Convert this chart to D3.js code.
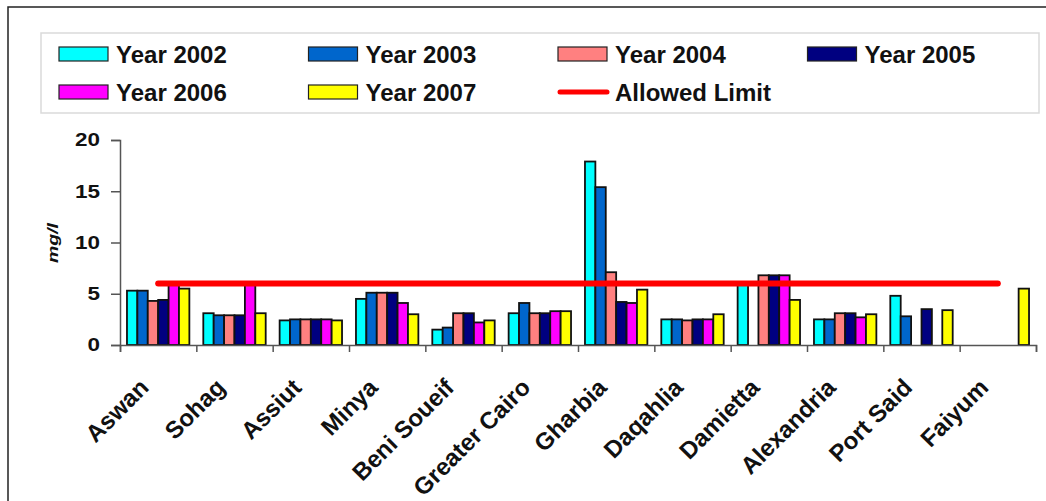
<!DOCTYPE html>
<html lang="en">
<head>
  <meta charset="UTF-8" />
  <title>Concentration by governorate</title>
  <script src="https://d3js.org/d3.v7.min.js"></script>
  <style>
    body { margin: 0; background: #fff; font-family: "Liberation Sans", Arial, sans-serif; }
    svg text { font-family: "Liberation Sans", Arial, sans-serif; }
  </style>
</head>
<body>
  <svg width="1046" height="501"></svg>

  <script>
    const regions = ["Aswan", "Sohag", "Assiut", "Minya", "Beni Soueif", "Greater Cairo",
                     "Gharbia", "Daqahlia", "Damietta", "Alexandria", "Port Said", "Faiyum"];
    const years = ["Year 2002", "Year 2003", "Year 2004", "Year 2005", "Year 2006", "Year 2007"];

    // Werte in mg/l, null = kein Wert
    const y2002 = [5.3, 3.1, 2.4, 4.5, 1.5, 3.1, 17.9, 2.5, 6.1, 2.5, 4.8, null];
    const y2003 = [5.3, 2.9, 2.5, 5.1, 1.7, 4.1, 15.4, 2.5, null, 2.5, 2.8, null];
    const y2004 = [4.3, 2.9, 2.5, 5.1, 3.1, 3.1, 7.1, 2.4, 6.8, 3.1, null, null];
    const y2005 = [4.4, 2.9, 2.5, 5.1, 3.1, 3.1, 4.2, 2.5, 6.8, 3.1, 3.5, null];
    const y2006 = [5.9, 5.9, 2.5, 4.1, 2.2, 3.3, 4.1, 2.5, 6.8, 2.7, null, null];
    const y2007 = [5.5, 3.1, 2.4, 3.0, 2.4, 3.3, 5.4, 3.0, 4.4, 3.0, 3.4, 5.5];
    const allowedLimit = [6, 6, 6, 6, 6, 6, 6, 6, 6, 6, 6, 6];
    const yTicks = [0, 5, 10, 15, 20];

    const series = [y2002, y2003, y2004, y2005, y2006, y2007];
    const farben = ["#00ffff", "#0066cc", "#ff8080", "#000080", "#ff00ff", "#ffff00"];

    const svg = d3.select("svg");
    const font = '"Liberation Sans", Arial, sans-serif';

    // Rahmen (nur oben und links sichtbar)
    svg.append("rect")
      .attr("x", 8).attr("y", 7).attr("width", 1060).attr("height", 520)
      .attr("fill", "none").attr("stroke", "#222").attr("stroke-width", 1.5);

    // Legende
    const legend = svg.append("g");
    legend.append("rect")
      .attr("x", 41).attr("y", 33).attr("width", 998).attr("height", 80)
      .attr("fill", "#fff").attr("stroke", "#dadada").attr("stroke-width", 1.5);

    const legendItems = years.map((y, i) => ({ name: y, color: farben[i], type: "bar" }));
    legendItems.push({ name: "Allowed Limit", color: "#ff0000", type: "line" });

    const li = legend.selectAll("g.item")
      .data(legendItems)
      .enter().append("g")
      .attr("class", "item")
      .attr("transform", (d, i) => `translate(${59 + (i % 4) * 249.5},${i < 4 ? 54 : 92})`);

    li.filter(d => d.type === "bar").append("rect")
      .attr("x", 0).attr("y", -7).attr("width", 49).attr("height", 14)
      .attr("fill", d => d.color).attr("stroke", "#222").attr("stroke-width", 1.2);
    li.filter(d => d.type === "line").append("line")
      .attr("x1", 2).attr("x2", 49).attr("y1", 0).attr("y2", 0)
      .attr("stroke", d => d.color).attr("stroke-width", 5).attr("stroke-linecap", "round");
    li.append("text")
      .attr("x", 57).attr("y", 8.5)
      .attr("font-size", "24px").attr("font-weight", "bold").attr("fill", "#111")
      .text(d => d.name);

    // Skalen
    const x0 = d3.scaleBand().domain(regions).range([120, 1036]).padding(0);
    const x1 = d3.scaleBand().domain(years).range([0, x0.bandwidth()]).paddingInner(0).paddingOuter(0.67);
    const y = d3.scaleLinear().domain([0, 20]).range([345, 140]);
    const xTicksScale = d3.scaleLinear().domain([0, regions.length]).range([120, 1036]);

    // Balken
    const bars = [];
    series.forEach((s, si) => s.forEach((v, ri) => {
      if (v != null) bars.push({ region: regions[ri], year: years[si], value: v, color: farben[si] });
    }));

    svg.append("g").selectAll("rect")
      .data(bars)
      .enter().append("rect")
      .attr("x", d => x0(d.region) + x1(d.year))
      .attr("y", d => y(d.value))
      .attr("width", x1.bandwidth())
      .attr("height", d => y(0) - y(d.value))
      .attr("fill", d => d.color)
      .attr("stroke", "#111")
      .attr("stroke-width", 1.8);

    // Grenzwert
    const line = d3.line()
      .x((d, i) => x0(regions[i]) + x0.bandwidth() / 2)
      .y(d => y(d));
    svg.append("path")
      .datum(allowedLimit)
      .attr("d", line)
      .attr("fill", "none")
      .attr("stroke", "#ff0000")
      .attr("stroke-width", 6)
      .attr("stroke-linecap", "round");

    // Y-Achse
    const yAxis = svg.append("g")
      .attr("transform", "translate(120,0)")
      .call(d3.axisLeft(y).tickValues(yTicks).tickSize(9).tickPadding(11));
    yAxis.selectAll("path, line").attr("stroke", "#555").attr("stroke-width", 1.5);
    yAxis.selectAll("text")
      .attr("font-family", font).attr("font-size", "18px").attr("font-weight", "bold")
      .attr("fill", "#111").attr("textLength", d => d < 10 ? 12.5 : 25)
      .attr("lengthAdjust", "spacingAndGlyphs");

    svg.append("text")
      .attr("transform", "translate(58,243) rotate(-90)")
      .attr("text-anchor", "middle")
      .attr("font-size", "14px").attr("font-style", "italic").attr("font-weight", "bold")
      .attr("textLength", 40).attr("lengthAdjust", "spacingAndGlyphs")
      .attr("fill", "#111")
      .text("mg/l");

    // X-Achse
    const xAxis = svg.append("g")
      .attr("transform", "translate(0,345)")
      .call(d3.axisBottom(xTicksScale).ticks(regions.length).tickSize(7).tickFormat(""));
    xAxis.selectAll("path, line").attr("stroke", "#555").attr("stroke-width", 1.5);

    svg.append("g").selectAll("text")
      .data(regions)
      .enter().append("text")
      .attr("transform", d => `translate(${x0(d) + x0.bandwidth() / 2 - 8},389) rotate(-45)`)
      .attr("text-anchor", "end")
      .attr("font-size", "24px").attr("font-weight", "bold").attr("fill", "#111")
      .text(d => d);
  </script>
</body>
</html>
